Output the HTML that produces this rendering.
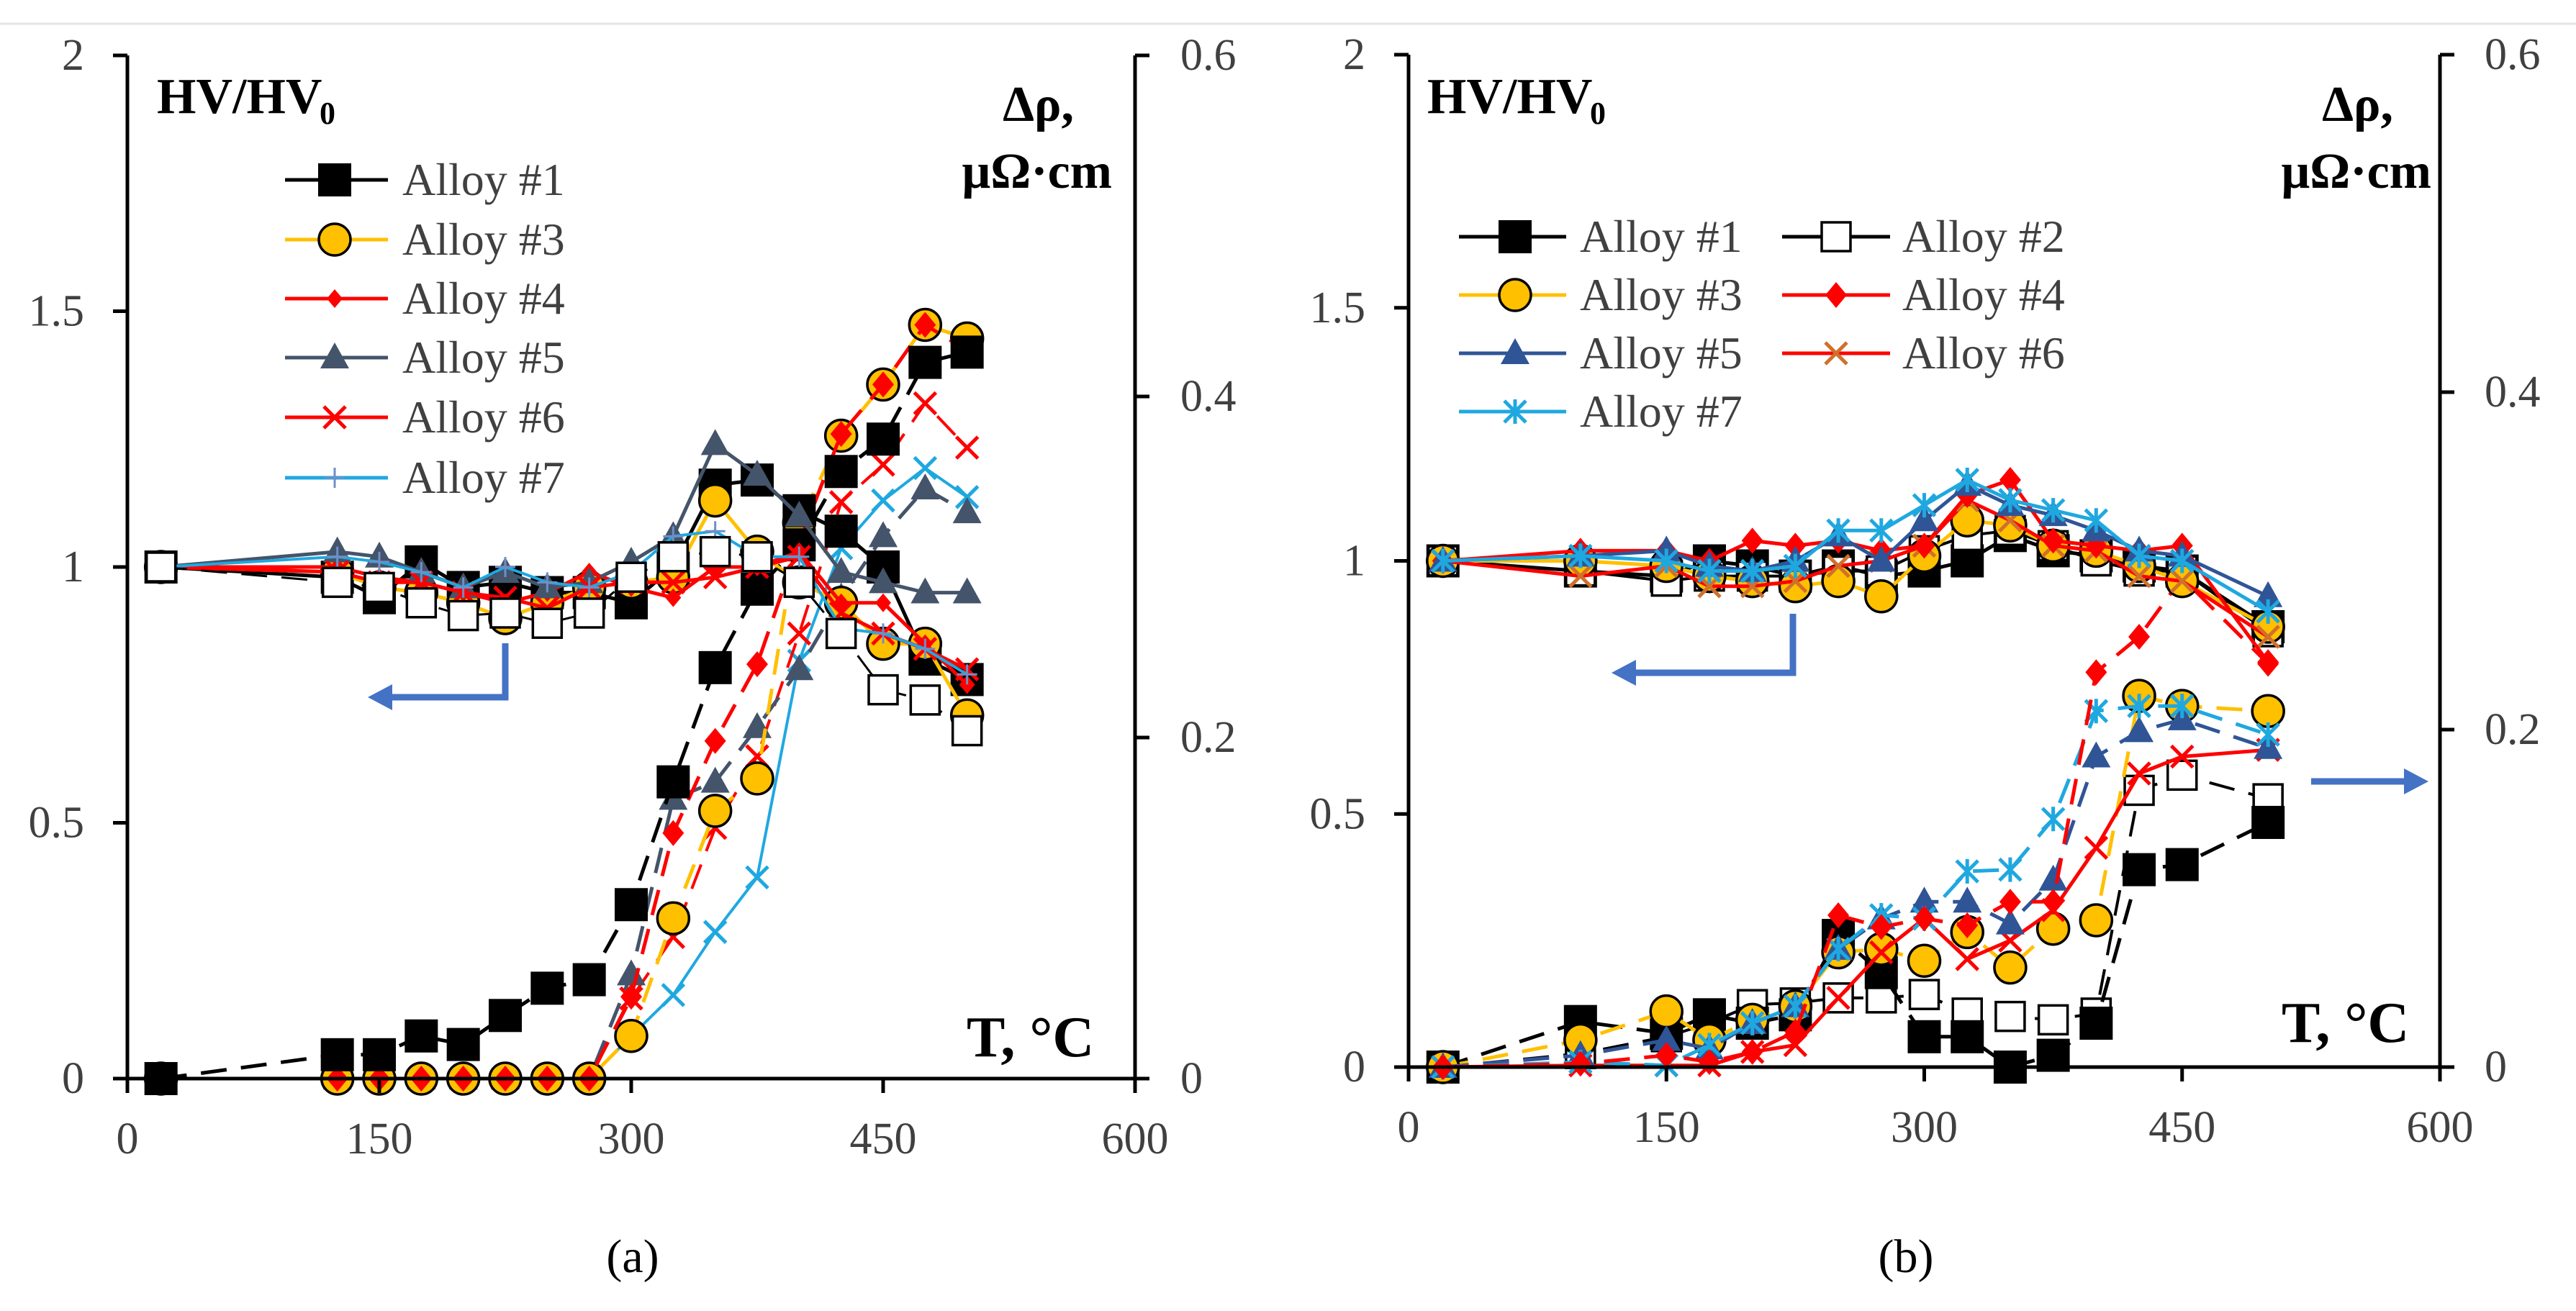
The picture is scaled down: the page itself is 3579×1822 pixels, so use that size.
<!DOCTYPE html>
<html><head><meta charset="utf-8"><style>
html,body{margin:0;padding:0;background:#fff}
svg{display:block}
text{font-family:"Liberation Serif",serif}
</style></head><body>
<svg id="fig" width="3579" height="1822" viewBox="0 0 3579 1822" xmlns="http://www.w3.org/2000/svg">
<line x1="0" y1="33" x2="3579" y2="33" stroke="#e4e4e4" stroke-width="3"/>
<g id="chartA"></g>
<g id="chartB"></g>
</svg>
<script>
// ---------- data: chart (a) ----------
const xA = [20,125,150,175,200,225,250,275,300,325,350,375,400,425,450,475,500];
const hvA1 = [1,0.98,0.94,1.01,0.96,0.97,0.95,0.95,0.93,1.0,1.16,1.17,1.11,1.07,1.0,0.82,0.78];
const hvA2 = [1,0.97,0.96,0.93,0.905,0.91,0.89,0.91,0.98,1.02,1.03,1.02,0.97,0.87,0.76,0.74,0.68];
const hvA3 = [1,0.99,0.96,0.95,0.93,0.9,0.93,0.96,0.97,0.98,1.13,1.03,0.97,0.93,0.85,0.85,0.71];
const hvA4 = [1,1.0,0.98,0.97,0.95,0.93,0.95,0.99,0.96,0.94,1.0,1.0,1.03,0.93,0.93,0.85,0.77];
const hvA5 = [1,1.03,1.02,0.99,0.96,0.99,0.96,0.97,1.01,1.06,1.24,1.18,1.1,0.99,0.97,0.95,0.95];
const hvA6 = [1,0.99,0.97,0.97,0.95,0.94,0.92,0.96,0.97,0.97,0.98,1.0,1.02,0.91,0.87,0.84,0.8];
const hvA7 = [1,1.02,1.01,0.99,0.96,1.0,0.97,0.96,0.99,1.06,1.07,1.02,1.02,0.88,0.87,0.84,0.79];
const drA1 = [0,0.014,0.014,0.025,0.02,0.037,0.053,0.058,0.102,0.174,0.241,0.287,0.313,0.356,0.375,0.42,0.426];
const drA3 = [0,0,0,0,0,0,0,0,0.025,0.094,0.157,0.176,0.326,0.377,0.407,0.442,0.434];
const drA4 = [0,0,0,0,0,0,0,0,0.048,0.144,0.198,0.243,0.314,0.378,0.407,0.442,0.427];
const drA5 = [0,0,0,0,0,0,0,0,0.061,0.164,0.174,0.206,0.24,0.282,0.318,0.346,0.332];
const drA6 = [0,0,0,0,0,0,0,0,0.047,0.083,0.147,0.189,0.261,0.338,0.36,0.396,0.37];
const drA7 = [0,0,0,0,0,0,0,0,0.025,0.049,0.086,0.118,0.245,0.311,0.339,0.358,0.341];
// ---------- data: chart (b) ----------
const xB = [20,100,150,175,200,225,250,275,300,325,350,375,400,425,450,500];
const hvB1 = [1,0.98,0.97,1.0,0.99,0.97,0.99,0.97,0.98,1.0,1.05,1.02,1.01,0.99,0.98,0.87];
const hvB2 = [1,0.98,0.96,0.97,0.97,0.97,0.98,0.98,1.02,1.05,1.06,1.03,1.0,0.98,0.98,0.86];
const hvB3 = [1,1.0,0.99,0.97,0.96,0.95,0.96,0.93,1.01,1.08,1.07,1.03,1.02,0.99,0.96,0.87];
const hvB4 = [1,1.02,1.02,1.0,1.04,1.03,1.04,1.02,1.03,1.13,1.16,1.04,1.03,1.02,1.03,0.8];
const hvB5 = [1,1.01,1.02,0.99,0.98,1.0,1.05,1.0,1.08,1.15,1.11,1.09,1.06,1.02,1.01,0.93];
const hvB6 = [1,0.97,0.99,0.95,0.95,0.96,0.99,1.0,1.03,1.12,1.08,1.03,1.02,0.97,0.96,0.85];
const hvB7 = [1,1.01,1.0,0.98,0.98,0.99,1.06,1.06,1.11,1.16,1.12,1.1,1.08,1.01,1.0,0.9];
const drB1 = [0,0.027,0.02,0.031,0.026,0.031,0.078,0.056,0.018,0.018,0,0.007,0.026,0.117,0.12,0.145];
const drB2 = [0,0.008,0.018,0.026,0.037,0.038,0.041,0.041,0.043,0.032,0.03,0.028,0.032,0.164,0.173,0.159];
const drB3 = [0,0.016,0.033,0.016,0.028,0.036,0.068,0.07,0.063,0.08,0.059,0.082,0.087,0.22,0.214,0.211];
const drB4 = [0,0.002,0.007,0.003,0.009,0.021,0.09,0.083,0.088,0.084,0.098,0.098,0.234,0.255,0.29,0.239];
const drB5 = [0,0.007,0.016,0.011,0.026,0.036,0.07,0.088,0.098,0.098,0.085,0.111,0.184,0.199,0.206,0.189];
const drB6 = [0,0.001,0.001,0.001,0.009,0.013,0.041,0.068,0.088,0.064,0.075,0.093,0.13,0.174,0.184,0.188];
const drB7 = [0,0.003,0.001,0.013,0.026,0.036,0.07,0.09,0.088,0.116,0.117,0.147,0.211,0.214,0.214,0.197];
// ---------- ticks ----------
const xTicks = [0,150,300,450,600];
const hvTicks = [0,0.5,1,1.5,2];
const hvTickLabels = ["0","0.5","1","1.5","2"];
const drTicks = [0,0.2,0.4,0.6];
const drTickLabels = ["0","0.2","0.4","0.6"];

const NS = "http://www.w3.org/2000/svg";
function mk(tag, attrs, parent){
  const e = document.createElementNS(NS, tag);
  for (const k in attrs) e.setAttribute(k, attrs[k]);
  parent.appendChild(e);
  return e;
}
function makeAxes(L, R, B, T){
  return {
    L, R, B, T,
    x: v => L + (v/600)*(R-L),
    hv: v => B - (v/2)*(B-T),
    dr: v => B - (v/0.6)*(B-T)
  };
}
function drawMarker(g, type, cx, cy, st){
  let m;
  if (type==='sq'){
    m = mk('rect',{x:cx-23,y:cy-23,width:46,height:46,fill:'#000'},g);
  } else if (type==='osq'){
    m = mk('rect',{x:cx-20,y:cy-20,width:40,height:40,fill:'#fff',stroke:'#000','stroke-width':3.5},g);
  } else if (type==='circ'){
    m = mk('circle',{cx:cx,cy:cy,r:22,fill:'#ffc000',stroke:'#000','stroke-width':3.5},g);
  } else if (type==='dia'){
    m = mk('polygon',{points:`${cx},${cy-13} ${cx+11},${cy} ${cx},${cy+13} ${cx-11},${cy}`,fill:st.mc||'#ff0000'},g);
  } else if (type==='bigdia'){
    m = mk('polygon',{points:`${cx},${cy-18} ${cx+15},${cy} ${cx},${cy+18} ${cx-15},${cy}`,fill:st.mc||'#ff0000'},g);
  } else if (type==='tri'){
    m = mk('polygon',{points:`${cx},${cy-21} ${cx+20},${cy+15} ${cx-20},${cy+15}`,fill:st.mc},g);
  } else if (type==='x'){
    m = mk('path',{d:`M${cx-15},${cy-15}L${cx+15},${cy+15}M${cx+15},${cy-15}L${cx-15},${cy+15}`,stroke:st.mc,'stroke-width':5,fill:'none'},g);
  } else if (type==='plus'){
    m = mk('path',{d:`M${cx-14},${cy}L${cx+14},${cy}M${cx},${cy-14}L${cx},${cy+14}`,stroke:st.mc,'stroke-width':3,fill:'none'},g);
  } else if (type==='star'){
    m = mk('path',{d:`M${cx-15},${cy-15}L${cx+15},${cy+15}M${cx+15},${cy-15}L${cx-15},${cy+15}M${cx},${cy-17}L${cx},${cy+17}`,stroke:st.mc,'stroke-width':5,fill:'none'},g);
  }
  
  
}
function drawSeries(parent, ax, xs, ys, yfn, st){
  const g = mk('g',{},parent);
  
  
  const pts = xs.map((x,i)=>`${ax.x(x).toFixed(1)},${yfn(ys[i]).toFixed(1)}`).join(' ');
  const pl = mk('polyline',{points:pts,fill:'none',stroke:st.lc,'stroke-width':st.lw||5,'stroke-linejoin':'round'},g);
  if (st.dash) pl.setAttribute('stroke-dasharray', st.dash);
  
  
  xs.forEach((x,i)=>drawMarker(g, st.mk, ax.x(x), yfn(ys[i]), st));
}
function txt(parent, s, x, y, attrs, name){
  const t = mk('text', Object.assign({x:x,y:y}, attrs), parent);
  t.textContent = s;
  
  
  return t;
}
function drawFrame(g, ax, leftLabelX, rightLabelX, xLabelY){
  const axg = mk('g',{stroke:'#000','stroke-width':5},g);
  
  
  mk('line',{x1:ax.L,y1:ax.T,x2:ax.L,y2:ax.B},axg);
  mk('line',{x1:ax.R,y1:ax.T,x2:ax.R,y2:ax.B},axg);
  mk('line',{x1:ax.L-20,y1:ax.B,x2:ax.R+20,y2:ax.B},axg);
  hvTicks.forEach((v,i)=>{
    mk('line',{x1:ax.L-20,y1:ax.hv(v),x2:ax.L,y2:ax.hv(v)},axg);
    txt(g, hvTickLabels[i], leftLabelX, ax.hv(v)+20, {'font-size':62,fill:'#404040','text-anchor':'end'}, 'y-left-tick-label');
  });
  drTicks.forEach((v,i)=>{
    mk('line',{x1:ax.R,y1:ax.dr(v),x2:ax.R+20,y2:ax.dr(v)},axg);
    txt(g, drTickLabels[i], rightLabelX, ax.dr(v)+20, {'font-size':62,fill:'#404040'}, 'y-right-tick-label');
  });
  xTicks.forEach(v=>{
    mk('line',{x1:ax.x(v),y1:ax.B,x2:ax.x(v),y2:ax.B+20},axg);
    txt(g, String(v), ax.x(v), xLabelY, {'font-size':62,fill:'#404040','text-anchor':'middle'}, 'x-tick-label');
  });
}
function arrow(g, pts, name){
  const a = mk('polyline',{points:pts.map(p=>p.join(',')).join(' '),fill:'none',stroke:'#4472c4','stroke-width':9},g);
  
  
  const n=pts.length, p1=pts[n-2], p2=pts[n-1];
  const dx=p2[0]-p1[0], dy=p2[1]-p1[1], len=Math.hypot(dx,dy), ux=dx/len, uy=dy/len;
  const tip=[p2[0]+ux*14,p2[1]+uy*14], base=[p2[0]-ux*20,p2[1]-uy*20];
  const h = mk('polygon',{points:`${tip[0]},${tip[1]} ${base[0]-uy*18},${base[1]+ux*18} ${base[0]+uy*18},${base[1]-ux*18}`,fill:'#4472c4'},g);
  
  
}
function legendEntry(g, x1, x2, mx, tx, y, st, label){
  const lg = mk('g',{},g);
  
  
  mk('line',{x1:x1,y1:y,x2:x2,y2:y,stroke:st.lc,'stroke-width':5},lg);
  drawMarker(lg, st.mk, mx, y, st);
  txt(lg, label, tx, y+21, {'font-size':64,fill:'#404040'}, 'legend-label');
}

// ---------- chart (a) ----------
(function(){
  const g = document.getElementById('chartA');
  const ax = makeAxes(177, 1577, 1499, 77);
  const S = {
    a1:{name:'alloy-1',lc:'#000',mk:'sq'},
    a2:{name:'alloy-2',lc:'#000',mk:'osq'},
    a3:{name:'alloy-3',lc:'#ffc000',mk:'circ'},
    a4:{name:'alloy-4',lc:'#ff0000',mk:'dia',mc:'#ff0000'},
    a4b:{name:'alloy-4',lc:'#ff0000',mk:'bigdia',mc:'#ff0000'},
    a5:{name:'alloy-5',lc:'#44546a',mk:'tri',mc:'#44546a'},
    a6:{name:'alloy-6',lc:'#ff0000',mk:'x',mc:'#ff0000'},
    a7:{name:'alloy-7',lc:'#1fa8e0',mk:'plus',mc:'#6f8fc8'},
    a7x:{name:'alloy-7',lc:'#1fa8e0',mk:'x',mc:'#1fa8e0',lw:4}
  };
  const D='36,20';
  drawSeries(g, ax, xA, drA7, ax.dr, Object.assign({},S.a7x,{name:'alloy-7-resistivity'}));
  drawSeries(g, ax, xA, drA6, ax.dr, Object.assign({},S.a6,{name:'alloy-6-resistivity',dash:D,lw:4}));
  drawSeries(g, ax, xA, drA5, ax.dr, Object.assign({},S.a5,{name:'alloy-5-resistivity',dash:D}));
  drawSeries(g, ax, xA, drA3, ax.dr, Object.assign({},S.a3,{name:'alloy-3-resistivity',dash:D}));
  drawSeries(g, ax, xA, drA4, ax.dr, Object.assign({},S.a4b,{name:'alloy-4-resistivity',dash:D}));
  drawSeries(g, ax, xA, drA1, ax.dr, Object.assign({},S.a1,{name:'alloy-1-resistivity',dash:D}));
  drawSeries(g, ax, xA, hvA1, ax.hv, Object.assign({},S.a1,{name:'alloy-1-hardness'}));
  drawSeries(g, ax, xA, hvA3, ax.hv, Object.assign({},S.a3,{name:'alloy-3-hardness'}));
  drawSeries(g, ax, xA, hvA4, ax.hv, Object.assign({},S.a4,{name:'alloy-4-hardness'}));
  drawSeries(g, ax, xA, hvA5, ax.hv, Object.assign({},S.a5,{name:'alloy-5-hardness'}));
  drawSeries(g, ax, xA, hvA6, ax.hv, Object.assign({},S.a6,{name:'alloy-6-hardness'}));
  drawSeries(g, ax, xA, hvA7, ax.hv, Object.assign({},S.a7,{name:'alloy-7-hardness',lw:4}));
  drawSeries(g, ax, xA, hvA2, ax.hv, Object.assign({},S.a2,{name:'alloy-2-hardness',dash:D,lw:3}));
  drawFrame(g, ax, 117, 1640, 1603);
  txt(g,'HV/HV',218,157,{'font-size':70,'font-weight':'bold',fill:'#000'},'y-left-axis-title');
  txt(g,'0',444,172,{'font-size':44,'font-weight':'bold',fill:'#000'},'y-left-axis-title-subscript');
  txt(g,'Δρ,',1492,168,{'font-size':70,'font-weight':'bold',fill:'#000','text-anchor':'end'},'y-right-axis-title');
  txt(g,'μΩ·cm',1545,261,{'font-size':70,'font-weight':'bold',fill:'#000','text-anchor':'end'},'y-right-axis-unit');
  txt(g,'T, °C',1343,1468,{'font-size':80,'font-weight':'bold',fill:'#000'},'x-axis-title');
  txt(g,'(a)',879,1768,{'font-size':66,fill:'#000','text-anchor':'middle'},'caption-a');
  arrow(g, [[702,894],[702,969],[525,969]], 'left-axis-arrow');
  const ys=[250,333,415,497,580,664];
  const ls=[S.a1,S.a3,S.a4,S.a5,S.a6,S.a7];
  const lb=['Alloy #1','Alloy #3','Alloy #4','Alloy #5','Alloy #6','Alloy #7'];
  ys.forEach((y,i)=>legendEntry(g,396,539,465,559,y,ls[i],lb[i]));
})();

// ---------- chart (b) ----------
(function(){
  const g = document.getElementById('chartB');
  const ax = makeAxes(1957, 3390, 1483, 76);
  const S = {
    b1:{name:'alloy-1',lc:'#000',mk:'sq'},
    b2:{name:'alloy-2',lc:'#000',mk:'osq'},
    b3:{name:'alloy-3',lc:'#ffc000',mk:'circ'},
    b4:{name:'alloy-4',lc:'#ff0000',mk:'bigdia',mc:'#ff0000'},
    b5:{name:'alloy-5',lc:'#2f5597',mk:'tri',mc:'#2f5597'},
    b6:{name:'alloy-6',lc:'#ff0000',mk:'x',mc:'#d0702a'},
    b6r:{name:'alloy-6',lc:'#ff0000',mk:'x',mc:'#ff0000'},
    b7:{name:'alloy-7',lc:'#1fa8e0',mk:'star',mc:'#1fa8e0'}
  };
  const D='36,20';
  drawSeries(g, ax, xB, drB2, ax.dr, Object.assign({},S.b2,{name:'alloy-2-resistivity',dash:D,lw:4}));
  drawSeries(g, ax, xB, drB1, ax.dr, Object.assign({},S.b1,{name:'alloy-1-resistivity',dash:D}));
  drawSeries(g, ax, xB, drB3, ax.dr, Object.assign({},S.b3,{name:'alloy-3-resistivity',dash:D}));
  drawSeries(g, ax, xB, drB6, ax.dr, Object.assign({},S.b6r,{name:'alloy-6-resistivity'}));
  drawSeries(g, ax, xB, drB5, ax.dr, Object.assign({},S.b5,{name:'alloy-5-resistivity',dash:D}));
  drawSeries(g, ax, xB, drB7, ax.dr, Object.assign({},S.b7,{name:'alloy-7-resistivity',dash:D}));
  drawSeries(g, ax, xB, drB4, ax.dr, Object.assign({},S.b4,{name:'alloy-4-resistivity',dash:D}));
  drawSeries(g, ax, xB, hvB1, ax.hv, Object.assign({},S.b1,{name:'alloy-1-hardness'}));
  drawSeries(g, ax, xB, hvB2, ax.hv, Object.assign({},S.b2,{name:'alloy-2-hardness',lw:4}));
  drawSeries(g, ax, xB, hvB3, ax.hv, Object.assign({},S.b3,{name:'alloy-3-hardness'}));
  drawSeries(g, ax, xB, hvB6, ax.hv, Object.assign({},S.b6,{name:'alloy-6-hardness'}));
  drawSeries(g, ax, xB, hvB4, ax.hv, Object.assign({},S.b4,{name:'alloy-4-hardness'}));
  drawSeries(g, ax, xB, hvB5, ax.hv, Object.assign({},S.b5,{name:'alloy-5-hardness'}));
  drawSeries(g, ax, xB, hvB7, ax.hv, Object.assign({},S.b7,{name:'alloy-7-hardness'}));
  drawFrame(g, ax, 1897, 3452, 1587);
  txt(g,'HV/HV',1983,157,{'font-size':70,'font-weight':'bold',fill:'#000'},'y-left-axis-title');
  txt(g,'0',2209,172,{'font-size':44,'font-weight':'bold',fill:'#000'},'y-left-axis-title-subscript');
  txt(g,'Δρ,',3325,168,{'font-size':70,'font-weight':'bold',fill:'#000','text-anchor':'end'},'y-right-axis-title');
  txt(g,'μΩ·cm',3378,261,{'font-size':70,'font-weight':'bold',fill:'#000','text-anchor':'end'},'y-right-axis-unit');
  txt(g,'T, °C',3170,1448,{'font-size':80,'font-weight':'bold',fill:'#000'},'x-axis-title');
  txt(g,'(b)',2648,1768,{'font-size':66,fill:'#000','text-anchor':'middle'},'caption-b');
  arrow(g, [[2491,853],[2491,935],[2253,935]], 'left-axis-arrow');
  arrow(g, [[3211,1086],[3360,1086]], 'right-axis-arrow');
  const rows=[329,410,491,572];
  legendEntry(g,2027,2176,2105,2195,rows[0],S.b1,'Alloy #1');
  legendEntry(g,2476,2626,2551,2643,rows[0],S.b2,'Alloy #2');
  legendEntry(g,2027,2176,2105,2195,rows[1],S.b3,'Alloy #3');
  legendEntry(g,2476,2626,2551,2643,rows[1],S.b4,'Alloy #4');
  legendEntry(g,2027,2176,2105,2195,rows[2],S.b5,'Alloy #5');
  legendEntry(g,2476,2626,2551,2643,rows[2],S.b6,'Alloy #6');
  legendEntry(g,2027,2176,2105,2195,rows[3],S.b7,'Alloy #7');
})();
</script>
</body></html>
